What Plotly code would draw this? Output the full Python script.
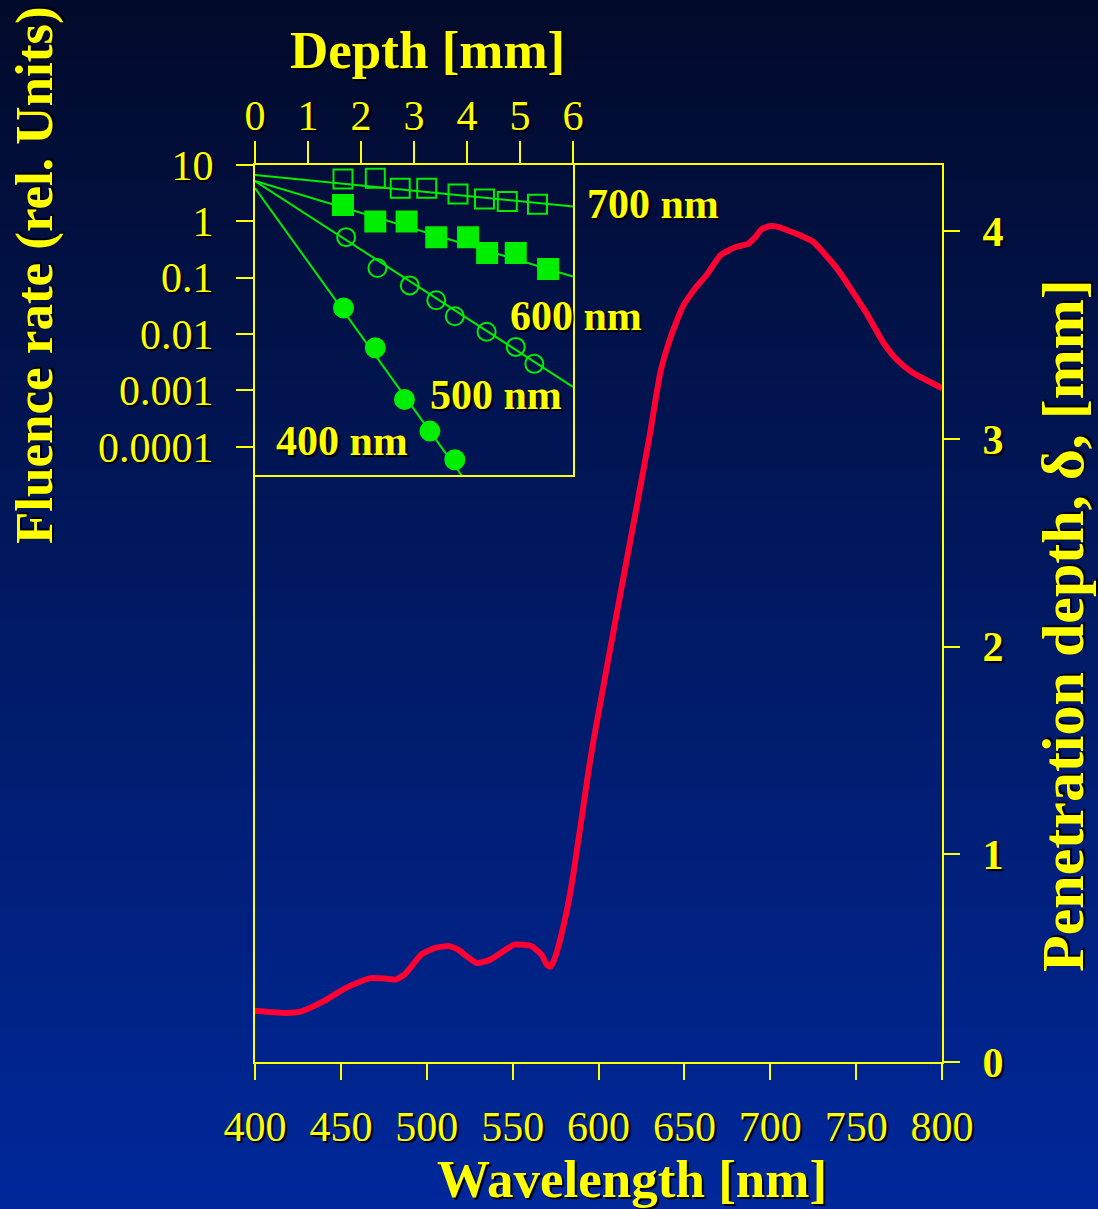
import plotly.graph_objects as go

# ---------------- data ----------------
# Main curve: penetration depth vs wavelength
wavelength = [400, 410, 418, 427, 440, 453, 467, 476, 482, 487, 497, 505, 513, 518, 529, 537,
              551, 561, 567, 570, 572, 574, 576.6, 579.5, 582, 585.4, 588.3, 591.2, 594, 597,
              601, 605, 614, 622, 630, 636, 642, 649, 656, 663, 671, 680, 687, 691, 695, 700,
              705, 710, 717, 725, 739, 756, 766, 774, 783, 800]
pen_depth = [0.247, 0.240, 0.236, 0.244, 0.293, 0.357, 0.404, 0.402, 0.397, 0.421, 0.518, 0.550,
             0.558, 0.542, 0.477, 0.493, 0.565, 0.558, 0.515, 0.468, 0.459, 0.488, 0.555, 0.652,
             0.747, 0.908, 1.07, 1.231, 1.392, 1.544, 1.725, 1.907, 2.311, 2.664, 3.027, 3.320,
             3.491, 3.637, 3.723, 3.791, 3.885, 3.925, 3.940, 3.970, 4.011, 4.026, 4.021, 4.006,
             3.983, 3.950, 3.820, 3.607, 3.463, 3.380, 3.319, 3.245]

# Inset: fluence rate vs depth
d700 = [1.66, 2.27, 2.74, 3.24, 3.83, 4.33, 4.76, 5.33]
f700 = [5.65, 5.8, 3.87, 3.87, 3.07, 2.5, 2.24, 2.01]
d600 = [1.66, 2.27, 2.86, 3.42, 4.02, 4.38, 4.92, 5.53]
f600 = [1.96, 0.99, 0.99, 0.525, 0.525, 0.274, 0.274, 0.143]
d500 = [1.72, 2.31, 2.92, 3.42, 3.77, 4.37, 4.92, 5.27]
f500 = [0.525, 0.149, 0.073, 0.0398, 0.0207, 0.011, 0.00593, 0.00297]
d400 = [1.67, 2.27, 2.82, 3.30, 3.77]
f400 = [0.0291, 0.0057, 0.000693, 0.00019, 0.000059]

# Fitted lines (depth endpoints, fluence endpoints)
fit_d = [0, 6]
fit700 = [6.65, 1.83]
fit600 = [5.2, 0.105]
fit500 = [5.2, 0.00116]
fit400_d = [0, 4.0]
fit400 = [3.9, 0.000023]

wl_ticks = [400, 450, 500, 550, 600, 650, 700, 750, 800]
pd_ticks = [0, 1, 2, 3, 4]
depth_ticks = [0, 1, 2, 3, 4, 5, 6]
fl_ticks = [10, 1, 0.1, 0.01, 0.001, 0.0001]
fl_labels = ["10", "1", "0.1", "0.01", "0.001", "0.0001"]

# ---------------- style ----------------
W, H = 1098, 1209
L, R, T, B = 255, 156, 165, 147
YEL = "#ffff00"
GRN = "#00ee00"
RED = "#ff0033"
FONT = "Liberation Serif"
SH = "2px 2px 1px #000000"

fig = go.Figure()

fig.add_trace(go.Scatter(x=wavelength, y=pen_depth, mode="lines",
                         line=dict(color=RED, width=6, shape="spline", smoothing=0.5),
                         xaxis="x", yaxis="y", showlegend=False, hoverinfo="skip"))

def add_series(dd, ff, sym, size, lx, ly):
    fig.add_trace(go.Scatter(x=lx, y=ly, mode="lines", line=dict(color=GRN, width=2),
                             xaxis="x2", yaxis="y2", showlegend=False, hoverinfo="skip"))
    fig.add_trace(go.Scatter(x=dd, y=ff, mode="markers",
                             marker=dict(symbol=sym, size=size, color=GRN,
                                         line=dict(color=GRN, width=2)),
                             xaxis="x2", yaxis="y2", showlegend=False, cliponaxis=False,
                             hoverinfo="skip"))

add_series(d700, f700, "square-open", 19, fit_d, fit700)
add_series(d600, f600, "square", 20, fit_d, fit600)
add_series(d500, f500, "circle-open", 18, fit_d, fit500)
add_series(d400, f400, "circle", 19, fit400_d, fit400)

# gradient background bands
top_c = (2, 10, 42)
bot_c = (0, 40, 155)
n = 80
shapes = []
for i in range(n):
    t0 = i / n
    t1 = (i + 1) / n
    tm = (t0 + t1) / 2
    c = tuple(round(top_c[k] + (bot_c[k] - top_c[k]) * tm) for k in range(3))
    py0 = t0 * H
    py1 = t1 * H + 1
    shapes.append(dict(type="rect", xref="paper", yref="paper", layer="below",
                       x0=-L / (W - L - R) - 0.05, x1=1 + R / (W - L - R) + 0.05,
                       y0=(H - B - py0) / (H - T - B), y1=(H - B - py1) / (H - T - B),
                       line=dict(width=0), fillcolor="rgb(%d,%d,%d)" % c))

pw = W - L - R
ph = H - T - B
def px(x):
    return (x - L) / pw
def py(y):
    return (H - B - y) / ph

tickfont = dict(family=FONT, size=42, color=YEL, shadow=SH)
tickfont_b = dict(family=FONT, size=42, color=YEL, shadow=SH, weight="bold")
titlefont = dict(family=FONT, size=53, color=YEL, shadow=SH, weight="bold")
titlefont_r = dict(family=FONT, size=60, color=YEL, shadow=SH, weight="bold")
labfont = dict(family=FONT, size=42, color=YEL, shadow=SH, weight="bold")

inset_right = (573 - L) / pw
inset_bottom = py(475)

fig.update_layout(
    width=W, height=H,
    margin=dict(l=L, r=R, t=T, b=B),
    paper_bgcolor="rgb(0,20,80)",
    plot_bgcolor="rgba(0,0,0,0)",
    shapes=shapes,
    showlegend=False,
    xaxis=dict(domain=[0, 1], range=[400, 800], tickvals=wl_ticks, showgrid=False, zeroline=False,
               showline=True, linecolor=YEL, linewidth=2, mirror=True,
               ticks="outside", ticklen=16, tickwidth=2, tickcolor=YEL,
               tickfont=tickfont, ticklabelstandoff=11, anchor="y"),
    yaxis=dict(domain=[0, 1], range=[0, 4.32], tickvals=pd_ticks, side="right", showgrid=False,
               zeroline=False, showline=True, linecolor=YEL, linewidth=2, mirror=True,
               ticks="outside", ticklen=16, tickwidth=2, tickcolor=YEL,
               tickfont=tickfont_b, ticklabelstandoff=14, anchor="x"),
    xaxis2=dict(domain=[0, inset_right], range=[0, 6], tickvals=depth_ticks, side="top",
                anchor="y2", showgrid=False, zeroline=False, showline=True, linecolor=YEL,
                linewidth=2, mirror=True, ticks="outside", ticklen=22, tickwidth=2,
                tickcolor=YEL, tickfont=tickfont, ticklabelstandoff=-6),
    yaxis2=dict(domain=[inset_bottom, 1], type="log", range=[-4.5, 1], tickvals=fl_ticks,
                ticktext=fl_labels, side="left", anchor="x2", showgrid=False, zeroline=False,
                showline=True, linecolor=YEL, linewidth=2, mirror=True, ticks="outside",
                ticklen=17, tickwidth=2, tickcolor=YEL, tickfont=tickfont,
                ticklabelstandoff=14),
)

ann = []
ann.append(dict(text="Wavelength [nm]", x=px(632), y=py(1179), xref="paper", yref="paper",
                showarrow=False, font=titlefont, xanchor="center", yanchor="middle"))
ann.append(dict(text="Depth [mm]", x=px(427), y=py(50), xref="paper", yref="paper",
                showarrow=False, font=titlefont, xanchor="center", yanchor="middle"))
ann.append(dict(text="Fluence rate (rel. Units)", x=px(35), y=py(275), xref="paper",
                yref="paper", showarrow=False, font=titlefont, textangle=-90,
                xanchor="center", yanchor="middle"))
ann.append(dict(text="Penetration depth, δ, [mm]", x=px(1063), y=py(626), xref="paper",
                yref="paper", showarrow=False, font=titlefont_r, textangle=-90,
                xanchor="center", yanchor="middle"))
for txt, xx, yy in [("700 nm", 585, 204), ("600 nm", 508, 316), ("500 nm", 428, 395),
                    ("400 nm", 274, 441)]:
    ann.append(dict(text=txt, x=px(xx), y=py(yy), xref="paper", yref="paper",
                    showarrow=False, font=labfont, xanchor="left", yanchor="middle"))
fig.update_layout(annotations=ann)

fig.write_html("out.html", config={"displayModeBar": False},
               post_script="document.body.style.margin='0';")
